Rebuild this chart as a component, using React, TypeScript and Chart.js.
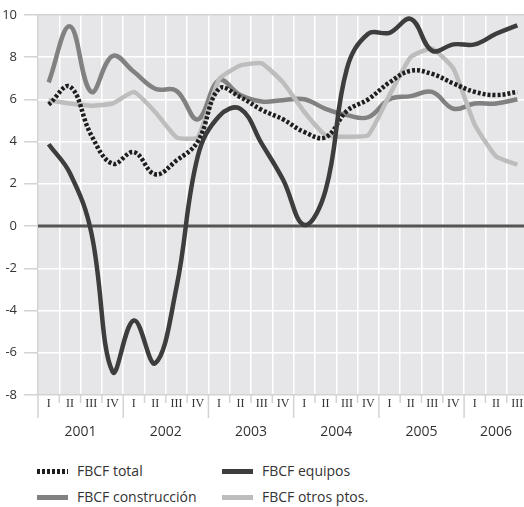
import React, { useEffect, useRef } from "react";
import { Chart, registerables } from "chart.js";

Chart.register(...registerables);

const quarters = [
  "I", "II", "III", "IV",
  "I", "II", "III", "IV",
  "I", "II", "III", "IV",
  "I", "II", "III", "IV",
  "I", "II", "III", "IV",
  "I", "II", "III",
];
const years = ["2001", "2002", "2003", "2004", "2005", "2006"];
const yTicks = [-8, -6, -4, -2, 0, 2, 4, 6, 8, 10];

const fbcfTotal = [5.75, 6.6, 4.3, 2.95, 3.5, 2.45, 3.1, 4.0, 6.5, 6.1, 5.5, 5.05, 4.45, 4.2, 5.45, 6.0, 6.8, 7.35, 7.2, 6.75, 6.35, 6.2, 6.35];
const fbcfEquipos = [3.87, 2.5, -0.3, -6.9, -4.47, -6.5, -2.9, 3.3, 5.2, 5.55, 3.9, 2.2, 0.05, 1.7, 7.45, 9.1, 9.15, 9.8, 8.3, 8.6, 8.6, 9.1, 9.5];
const fbcfConstruccion = [6.8, 9.45, 6.35, 8.05, 7.3, 6.5, 6.4, 5.05, 6.9, 6.2, 5.9, 5.96, 6.0, 5.55, 5.25, 5.15, 6.0, 6.15, 6.35, 5.55, 5.8, 5.8, 6.0];
const fbcfOtros = [5.95, 5.8, 5.7, 5.8, 6.35, 5.4, 4.2, 4.2, 6.95, 7.6, 7.7, 6.8, 5.4, 4.3, 4.23, 4.3, 6.2, 8.0, 8.4, 7.45, 4.8, 3.3, 2.9];

const legendItems = [
  { label: "FBCF total", color: "#1e1e1e", dotted: true, x: 37, y: 471 },
  { label: "FBCF equipos", color: "#3d3d3d", dotted: false, x: 222, y: 471 },
  { label: "FBCF construcción", color: "#818181", dotted: false, x: 37, y: 497 },
  { label: "FBCF otros ptos.", color: "#bdbdbd", dotted: false, x: 222, y: 497 },
];

const SANS = "'Open Sans', 'Noto Sans', sans-serif";
const GRID_GRAY = "#d3d3d5";

export default function App() {
  const ref = useRef<HTMLCanvasElement>(null);

  useEffect(() => {
    if (!ref.current) return;

    const bgPlugin = {
      id: "bgPlugin",
      beforeDraw(chart: any) {
        const { ctx, chartArea: a } = chart;
        ctx.save();
        ctx.fillStyle = "#e6e6e8";
        ctx.fillRect(a.left, a.top, a.right - a.left, a.bottom - a.top);
        ctx.restore();
      },
      beforeDatasetsDraw(chart: any) {
        const { ctx, chartArea: a } = chart;
        const y0 = chart.scales.y.getPixelForValue(0);
        ctx.save();
        ctx.strokeStyle = "#555555";
        ctx.lineWidth = 3;
        ctx.beginPath();
        ctx.moveTo(a.left, y0);
        ctx.lineTo(a.right, y0);
        ctx.stroke();
        ctx.restore();
      },
    };

    const axisPlugin = {
      id: "axisPlugin",
      afterDraw(chart: any) {
        const { ctx, chartArea: a } = chart;
        const x = chart.scales.x;
        const step = x.getPixelForValue(1) - x.getPixelForValue(0);
        ctx.save();
        ctx.strokeStyle = GRID_GRAY;
        ctx.lineWidth = 1.5;
        for (let i = 0; i < quarters.length; i++) {
          const left = x.getPixelForValue(i) - step / 2;
          const len = i % 4 === 0 ? 23 : 8;
          ctx.beginPath();
          ctx.moveTo(left, a.bottom);
          ctx.lineTo(left, a.bottom + len);
          ctx.stroke();
        }
        ctx.fillStyle = "#333333";
        ctx.textAlign = "center";
        ctx.textBaseline = "middle";
        ctx.font = "12px 'Liberation Serif', 'DejaVu Serif', serif";
        quarters.forEach((q, i) => {
          ctx.fillText(q, x.getPixelForValue(i), a.bottom + 9);
        });
        ctx.font = "14px " + SANS;
        years.forEach((yr, k) => {
          const first = k * 4;
          const last = Math.min(first + 3, quarters.length - 1);
          const cx = (x.getPixelForValue(first) + x.getPixelForValue(last)) / 2;
          ctx.fillText(yr, cx, a.bottom + 37);
        });
        ctx.restore();
      },
    };

    const chart = new Chart(ref.current, {
      type: "line",
      data: {
        labels: quarters.map((q, i) => q + "-" + i),
        datasets: [
          {
            label: "FBCF equipos",
            data: fbcfEquipos,
            borderColor: "#3d3d3d",
            borderWidth: 4.5,
            tension: 0.4,
          },
          {
            label: "FBCF total",
            data: fbcfTotal,
            borderColor: "#1e1e1e",
            borderWidth: 4.5,
            borderDash: [3, 2],
            tension: 0.4,
          },
          {
            label: "FBCF otros ptos.",
            data: fbcfOtros,
            borderColor: "#bdbdbd",
            borderWidth: 4.5,
            tension: 0.15,
          },
          {
            label: "FBCF construcción",
            data: fbcfConstruccion,
            borderColor: "#818181",
            borderWidth: 4.5,
            tension: 0.4,
          },
        ],
      },
      options: {
        responsive: false,
        animation: false,
        devicePixelRatio: 1,
        layout: { padding: { top: 12, left: 0, right: 0, bottom: 0 } },
        elements: { point: { radius: 0 } },
        plugins: { legend: { display: false }, tooltip: { enabled: false } },
        scales: {
          x: {
            type: "category",
            offset: true,
            grid: {
              offset: true,
              drawTicks: false,
              lineWidth: 1.5,
              color: (c: any) => (c.index === 0 ? GRID_GRAY : "#ffffff"),
            },
            border: { display: false },
            ticks: { display: false },
            afterFit: (s: any) => {
              s.height = 50;
            },
          },
          y: {
            min: -8,
            max: 10,
            afterBuildTicks: (s: any) => {
              s.ticks = yTicks.map((v) => ({ value: v }));
            },
            grid: {
              lineWidth: 1.5,
              tickLength: 14,
              tickColor: GRID_GRAY,
              color: (c: any) =>
                c.tick && (c.tick.value === 10 || c.tick.value === -8)
                  ? GRID_GRAY
                  : "#ffffff",
            },
            border: { display: false },
            ticks: {
              padding: 7,
              color: "#333333",
              font: { family: SANS, size: 13 },
            },
            afterFit: (s: any) => {
              s.width = 38;
            },
          },
        },
      },
      plugins: [bgPlugin, axisPlugin],
    });

    return () => chart.destroy();
  }, []);

  return (
    <div
      style={{
        position: "absolute",
        left: 0,
        top: 0,
        width: 524,
        height: 507,
        overflow: "hidden",
        background: "#ffffff",
        fontFamily: SANS,
      }}
    >
      <canvas
        ref={ref}
        width={528}
        height={445}
        style={{ position: "absolute", left: 0, top: 0, width: 528, height: 445 }}
      />
      {legendItems.map((it) => (
        <div key={it.label}>
          <div
            style={{
              position: "absolute",
              left: it.x,
              top: it.y - 2,
              width: 31,
              height: 5,
              background: it.dotted
                ? `repeating-linear-gradient(to right, ${it.color} 0px, ${it.color} 3px, transparent 3px, transparent 5px)`
                : it.color,
            }}
          />
          <div
            style={{
              position: "absolute",
              left: it.x + 40,
              top: it.y - 10,
              height: 20,
              lineHeight: "20px",
              fontSize: 14,
              color: "#333333",
              whiteSpace: "nowrap",
            }}
          >
            {it.label}
          </div>
        </div>
      ))}
    </div>
  );
}
